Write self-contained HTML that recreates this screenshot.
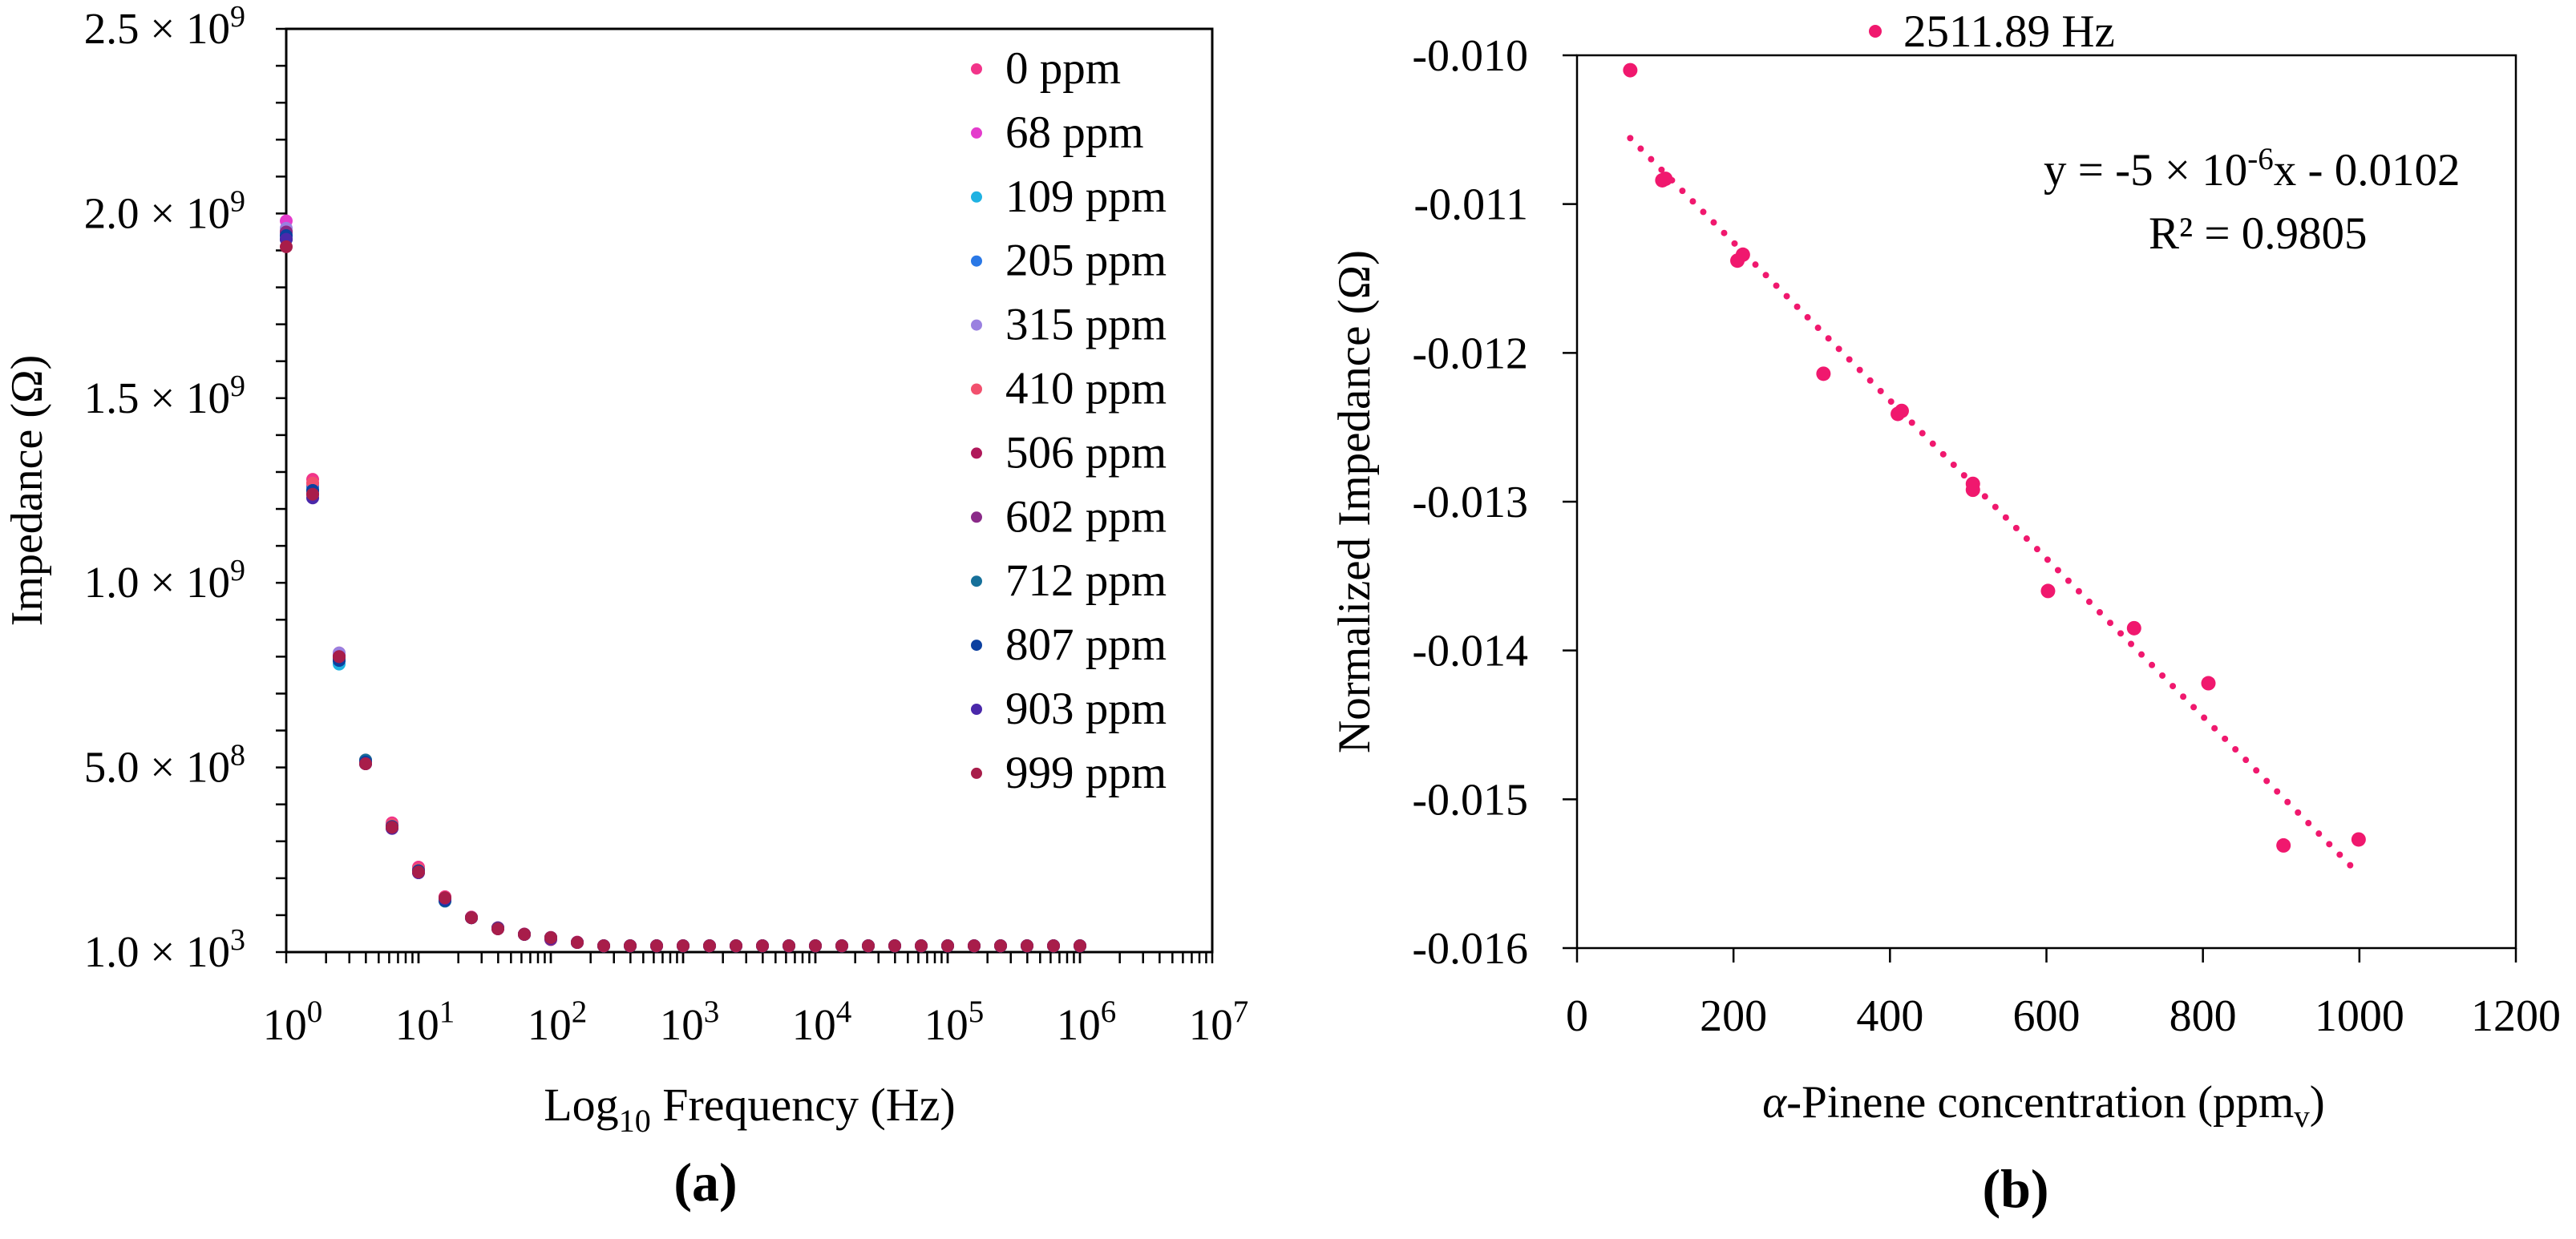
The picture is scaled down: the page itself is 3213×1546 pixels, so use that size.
<!DOCTYPE html>
<html><head><meta charset="utf-8">
<style>
html,body{margin:0;padding:0;background:#fff;}
svg{display:block;}
text{font-family:"Liberation Serif",serif;fill:#000;}
</style></head>
<body>
<svg id="fig" width="3213" height="1546" viewBox="0 0 3213 1546" xmlns="http://www.w3.org/2000/svg">
<g id="chartA"></g>
<g id="chartB"></g>
</svg>
<script>
// ---------- Chart (a) data ----------
const seriesNames = ["0 ppm","68 ppm","109 ppm","205 ppm","315 ppm","410 ppm","506 ppm","602 ppm","712 ppm","807 ppm","903 ppm","999 ppm"];
const seriesColors = ["#f2348a","#e43ccc","#1fb2e2","#2a78e6","#9a80e0","#f2506e","#b0185a","#8a2a88","#16709a","#0c40a0","#4a28aa","#a81d4a"];
const logFreqs = [0,0.2,0.4,0.6,0.8,1,1.2,1.4,1.6,1.8,2,2.2,2.4,2.6,2.8,3,3.2,3.4,3.6,3.8,4,4.2,4.4,4.6,4.8,5,5.2,5.4,5.6,5.8,6];
// impedance in units of 1e9 ohm for the first points, per series
const headValues = [
 [1.95,1.28,0.81,0.52,0.35,0.23,0.150,0.095,0.066,0.049,0.040,0.027],
 [1.98,1.27,0.80,0.515,0.345,0.225,0.148,0.094,0.065,0.048,0.039,0.026],
 [1.93,1.26,0.78,0.51,0.34,0.22,0.145,0.093,0.064,0.048,0.039,0.026],
 [1.94,1.26,0.79,0.515,0.34,0.22,0.14,0.093,0.064,0.048,0.039,0.026],
 [1.96,1.25,0.81,0.51,0.34,0.22,0.145,0.093,0.066,0.048,0.037,0.026],
 [1.95,1.27,0.80,0.515,0.345,0.225,0.148,0.094,0.065,0.048,0.039,0.026],
 [1.93,1.24,0.80,0.51,0.34,0.22,0.145,0.093,0.064,0.048,0.039,0.026],
 [1.95,1.24,0.80,0.51,0.335,0.215,0.145,0.093,0.066,0.048,0.034,0.026],
 [1.93,1.25,0.79,0.52,0.34,0.22,0.138,0.093,0.064,0.048,0.039,0.026],
 [1.94,1.25,0.79,0.515,0.34,0.22,0.14,0.093,0.064,0.048,0.039,0.026],
 [1.93,1.23,0.80,0.51,0.335,0.215,0.145,0.093,0.063,0.048,0.037,0.026],
 [1.91,1.24,0.80,0.51,0.338,0.217,0.147,0.093,0.063,0.048,0.039,0.026]
];
const tailValue = 0.017;
const yTicksA = [0,0.5,1.0,1.5,2.0,2.5];
const yTickLabelsA = [["1.0","3"],["5.0","8"],["1.0","9"],["1.5","9"],["2.0","9"],["2.5","9"]];
const xDecadesA = [0,1,2,3,4,5,6,7];

// ---------- Chart (b) data ----------
const concentrations = [68,109,113,205,212,315,410,415,506,506,602,712,807,903,999];
const normImpedance = [-0.01010,-0.01084,-0.01083,-0.01138,-0.01134,-0.01214,-0.01241,-0.01239,-0.01292,-0.01288,-0.01360,-0.01385,-0.01422,-0.01531,-0.01527];
const xTicksB = [0,200,400,600,800,1000,1200];
const yTicksB = [-0.010,-0.011,-0.012,-0.013,-0.014,-0.015,-0.016];
const yTickLabelsB = ["-0.010","-0.011","-0.012","-0.013","-0.014","-0.015","-0.016"];

const NS="http://www.w3.org/2000/svg";
function mk(parent,tag,attrs){const e=document.createElementNS(NS,tag);for(const k in attrs)e.setAttribute(k,attrs[k]);parent.appendChild(e);return e;}

// ---------- Draw chart (a) ----------
(function(){
 const g=document.getElementById('chartA');
 const L=357,R=1512,T=36,B=1188;
 const xA=v=>L+(v-0)/(7-0)*(R-L);
 const yA=v=>B-(v/2.5)*(B-T);
 const frame=mk(g,'rect',{x:L,y:T,width:R-L,height:B-T,fill:'none',stroke:'#000','stroke-width':3});
 
 
 for(let i=0;i<=25;i++){
  const t=mk(g,'line',{x1:L-13,x2:L,y1:yA(i*0.1),y2:yA(i*0.1),stroke:'#000','stroke-width':2.5});
  
  
 }
 yTicksA.forEach((v,i)=>{
  const t=mk(g,'text',{x:306,y:yA(v)+18,'text-anchor':'end','font-size':55});
  
  
  t.innerHTML=yTickLabelsA[i][0]+' × 10<tspan dy="-21" font-size="38">'+yTickLabelsA[i][1]+'</tspan>';
 });
 for(let d=0;d<7;d++){
  for(let m=1;m<=10;m++){
   const lv=d+Math.log10(m);
   const t=mk(g,'line',{x1:xA(lv),x2:xA(lv),y1:B,y2:B+14,stroke:'#000','stroke-width':2.5});
   
   
  }
 }
 xDecadesA.forEach(d=>{
  const t=mk(g,'text',{x:xA(d)+8,y:1297,'text-anchor':'middle','font-size':55});
  
  
  t.innerHTML='10<tspan dy="-22" font-size="39">'+d+'</tspan>';
 });
 seriesNames.forEach((name,s)=>{
  const sg=mk(g,'g',{});
  
  
  logFreqs.forEach((lf,i)=>{
   const v=i<headValues[s].length?headValues[s][i]:tailValue;
   const c=mk(sg,'circle',{cx:xA(lf),cy:yA(v),r:8,fill:seriesColors[s]});
   
   
  });
 });
 seriesNames.forEach((name,s)=>{
  const y=86+s*79.9;
  const lg=mk(g,'g',{});
  
  
  mk(lg,'circle',{cx:1218,cy:y,r:7,fill:seriesColors[s]});
  const t=mk(lg,'text',{x:1254,y:y+18,'font-size':57});
  t.textContent=name;
 });
 const yt=mk(g,'text',{x:52,y:612,'text-anchor':'middle','font-size':56,transform:'rotate(-90 52 612)'});
 
 
 yt.textContent='Impedance (Ω)';
 const xt=mk(g,'text',{x:935,y:1398,'text-anchor':'middle','font-size':58});
 
 
 xt.innerHTML='Log<tspan dy="14" font-size="40">10</tspan><tspan dy="-14"> Frequency (Hz)</tspan>';
 const pl=mk(g,'text',{x:880,y:1498,'text-anchor':'middle','font-size':68,'font-weight':'bold'});
 
 
 pl.textContent='(a)';
})();

// ---------- Draw chart (b) ----------
(function(){
 const g=document.getElementById('chartB');
 const L=1967,R=3138,T=69,B=1183;
 const xB=v=>L+v/1200*(R-L);
 const yB=v=>T+(-0.010-v)/0.006*(B-T);
 const frame=mk(g,'rect',{x:L,y:T,width:R-L,height:B-T,fill:'none',stroke:'#000','stroke-width':2.5});
 
 
 yTicksB.forEach((v,i)=>{
  const t=mk(g,'line',{x1:L-18,x2:L,y1:yB(v),y2:yB(v),stroke:'#000','stroke-width':2.5});
  
  
  const l=mk(g,'text',{x:1906,y:yB(v)+19,'text-anchor':'end','font-size':56});
  
  
  l.textContent=yTickLabelsB[i];
 });
 xTicksB.forEach(v=>{
  const t=mk(g,'line',{x1:xB(v),x2:xB(v),y1:B,y2:B+18,stroke:'#000','stroke-width':2.5});
  
  
  const l=mk(g,'text',{x:xB(v),y:1286,'text-anchor':'middle','font-size':56});
  
  
  l.textContent=v;
 });
 const n=concentrations.length;
 const mx=concentrations.reduce((a,b)=>a+b,0)/n, my=normImpedance.reduce((a,b)=>a+b,0)/n;
 let sxy=0,sxx=0;for(let i=0;i<n;i++){sxy+=(concentrations[i]-mx)*(normImpedance[i]-my);sxx+=(concentrations[i]-mx)**2;}
 const slope=sxy/sxx, icpt=my-slope*mx;
 const x0=Math.min(...concentrations), x1=Math.max(...concentrations);
 const tl=mk(g,'line',{x1:xB(x0),y1:yB(slope*x0+icpt),x2:xB(x1),y2:yB(slope*x1+icpt),stroke:'#f0186e','stroke-width':8,'stroke-linecap':'round','stroke-dasharray':'0 18.5'});
 
 
 concentrations.forEach((c,i)=>{
  const p=mk(g,'circle',{cx:xB(c),cy:yB(normImpedance[i]),r:9,fill:'#f0186e'});
  
  
 });
 const lg=mk(g,'g',{});
 
 
 mk(lg,'circle',{cx:2339,cy:39,r:8,fill:'#f0186e'});
 const lt=mk(lg,'text',{x:2374,y:58,'font-size':57});
 lt.textContent='2511.89 Hz';
 const eq=mk(g,'text',{x:2549,y:231,'font-size':57});
 
 
 eq.innerHTML='y = -5 × 10<tspan dy="-20" font-size="39">-6</tspan><tspan dy="20">x - 0.0102</tspan>';
 const r2=mk(g,'text',{x:2680,y:310,'font-size':57});
 
 
 r2.textContent='R² = 0.9805';
 const yt=mk(g,'text',{x:1708,y:626,'text-anchor':'middle','font-size':57,transform:'rotate(-90 1708 626)'});
 
 
 yt.textContent='Normalized Impedance (Ω)';
 const xt=mk(g,'text',{x:2549,y:1394,'text-anchor':'middle','font-size':57});
 
 
 xt.innerHTML='<tspan font-style="italic">α</tspan>-Pinene concentration (ppm<tspan dy="12" font-size="39">v</tspan><tspan dy="-12">)</tspan>';
 const pl=mk(g,'text',{x:2514,y:1506,'text-anchor':'middle','font-size':68,'font-weight':'bold'});
 
 
 pl.textContent='(b)';
})();
</script>
</body></html>
